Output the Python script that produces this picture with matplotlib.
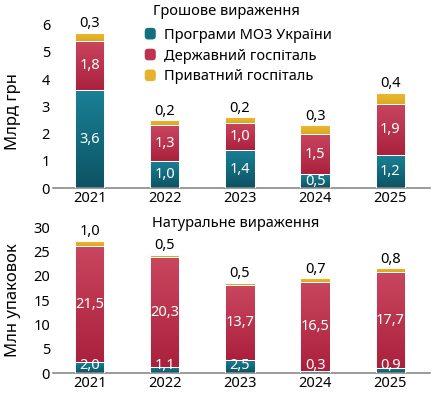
import numpy as np
import matplotlib
matplotlib.use("Agg")
import matplotlib.pyplot as plt
from matplotlib.colors import LinearSegmentedColormap
from matplotlib.patches import Patch, FancyBboxPatch
from matplotlib.legend_handler import HandlerPatch

plt.rcParams['font.family'] = ['Noto Sans', 'DejaVu Sans']

years = ['2021', '2022', '2023', '2024', '2025']
series = ['Програми МОЗ України', 'Державний госпіталь', 'Приватний госпіталь']

# грошове вираження, млрд грн
money_moz = [3.6, 1.0, 1.4, 0.5, 1.2]
money_state = [1.8, 1.3, 1.0, 1.5, 1.9]
money_private = [0.3, 0.2, 0.2, 0.3, 0.4]

# натуральне вираження, млн упаковок
packs_moz = [2.0, 1.1, 2.5, 0.3, 0.9]
packs_state = [21.5, 20.3, 13.7, 16.5, 17.7]
packs_private = [1.0, 0.5, 0.5, 0.7, 0.8]

# in the original the lower axis ticks sit ~10% low relative to the bars
packs_tick_scale = 0.9

# (top, bottom) colours of the gradients
grad = [('#1a8196', '#0c5363'), ('#c9465f', '#ab213d'), ('#ecba30', '#dcaa22')]
solid = ['#136f82', '#bd3350', '#e6b42a']

fig = plt.figure(figsize=(4.37, 3.96), dpi=100)
ax1 = fig.add_axes([0.121, 0.525, 0.863, 0.447])
ax2 = fig.add_axes([0.121, 0.058, 0.863, 0.381])


def fmt(v):
    return f'{v:.1f}'.replace('.', ',')


def draw(ax, data, ymax, yticks, scale, ylabel, label_y, min_lbl):
    x = np.arange(len(years))
    bottom = np.zeros(len(years))
    for i, vals in enumerate(data):
        bars = ax.bar(x, vals, 0.39, bottom=bottom, color='none',
                      edgecolor='white', linewidth=0.7, zorder=3)
        cmap = LinearSegmentedColormap.from_list('g', [grad[i][1], grad[i][0]])
        for r in bars:
            img = ax.imshow(np.linspace(0, 1, 50).reshape(-1, 1), cmap=cmap,
                            origin='lower', aspect='auto', zorder=2,
                            extent=[r.get_x(), r.get_x() + r.get_width(),
                                    r.get_y(), r.get_y() + r.get_height()])
            img.set_clip_path(r)
        if i < 2:
            for xi, b, v in zip(x, bottom, vals):
                ax.text(xi, max(b + v / 2, min_lbl) if i == 0 else b + v / 2,
                        fmt(v), color='white', ha='center', va='center',
                        fontsize=10.5, zorder=4)
        else:
            for xi, b, v in zip(x, bottom, vals):
                ax.annotate(fmt(v), (xi, b + v), xytext=(0, 1),
                            textcoords='offset points', ha='center',
                            va='bottom', fontsize=10.5, zorder=4)
        bottom = bottom + np.array(vals)
    ax.set_xlim(-0.49, 4.53)
    ax.set_ylim(0, ymax * scale)
    ax.set_xticks(x)
    ax.set_xticklabels(years, fontsize=10.5)
    ax.set_yticks([t * scale for t in yticks])
    ax.set_yticklabels([str(t) for t in yticks], fontsize=10.5)
    ax.tick_params(length=0, pad=2)
    for s in ['top', 'right', 'left']:
        ax.spines[s].set_visible(False)
    ax.spines['bottom'].set_color('#8a8a8a')
    ax.spines['bottom'].set_linewidth(1.2)
    ax.set_ylabel(ylabel, fontsize=12, va='center')
    ax.yaxis.set_label_coords(-0.105, label_y)


draw(ax1, [money_moz, money_state, money_private], 6.5, list(range(0, 7)),
     1.0, 'Млрд грн', 0.43, 0)
draw(ax2, [packs_moz, packs_state, packs_private], 31,
     list(range(0, 31, 5)), packs_tick_scale, 'Млн упаковок', 0.48, 1.45)

fig.text(0.518, 0.970, 'Грошове вираження', ha='center', va='center',
         fontsize=10.5)
fig.text(0.54, 0.435, 'Натуральне вираження', ha='center', va='center',
         fontsize=10.5)


def rounded(legend, orig_handle, xdescent, ydescent, width, height, fontsize):
    return FancyBboxPatch((-xdescent + 1, -ydescent), width - 2, height,
                          boxstyle='round,pad=0,rounding_size=2.5')


handles = [Patch(facecolor=c, edgecolor='none') for c in solid]
fig.legend(handles, series, loc='upper left', bbox_to_anchor=(0.328, 0.93),
           frameon=False, fontsize=10.5, handlelength=0.95, handleheight=0.85,
           handletextpad=0.45, labelspacing=0.4, borderaxespad=0,
           borderpad=0, handler_map={Patch: HandlerPatch(patch_func=rounded)})

fig.savefig('out.png', dpi=100)
